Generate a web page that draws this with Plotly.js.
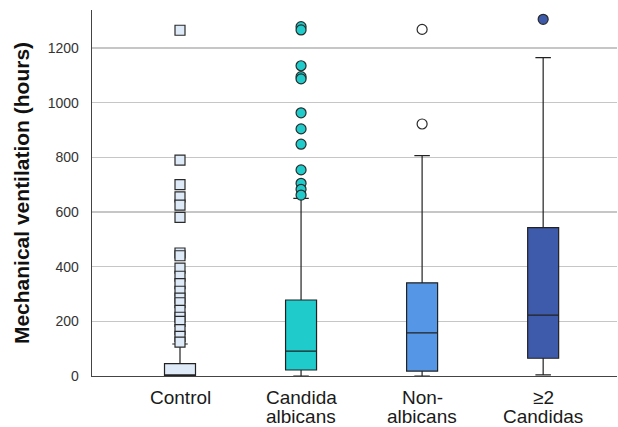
<!DOCTYPE html>
<html>
<head>
<meta charset="utf-8">
<script src="https://cdn.plot.ly/plotly-3.0.1.min.js"></script>
<style>html,body{margin:0;padding:0;background:#fff;}#chart{width:618px;height:427px;}</style>
</head>
<body>
<div id="chart"></div>
<script>
// Categories (two text lines each)
const categories = ["Control", "Candida albicans", "Non-albicans", "≥2 Candidas"];
const labelLine1 = ["Control", "Candida", "Non-", "≥2"];
const labelLine2 = ["", "albicans", "albicans", "Candidas"];

// Box statistics (hours)
const q1 = [0, 22, 18, 65];
const median = [4, 91, 158, 223];
const q3 = [45, 278, 341, 543];
const lowerFence = [0, 0, 0, 4];
const upperFence = [117, 650, 806, 1165];

// Outliers per group (hours)
const outControl = [1265, 790, 700, 655, 625, 580, 450, 440, 395, 365, 338, 310, 285, 268, 240, 215, 200, 170, 145, 124];
const outAlbicans = [1278, 1266, 1135, 1095, 1087, 963, 904, 848, 754, 705, 683, 662];
const outNonAlbicans = [1268, 922];
const outMulti = [1305];

const boxFill = ["#dfeaf8", "#1fcbcb", "#5597e6", "#3e5aab"];
const outlierFill = ["#dfeaf8", "#1fcbcb", "#ffffff", "#3e5aab"];
const outlierSymbol = ["square", "circle", "circle", "circle"];
const outliers = [outControl, outAlbicans, outNonAlbicans, outMulti];

const traces = [];
categories.forEach((c, i) => {
  traces.push({
    type: "box",
    name: c,
    x: [i],
    q1: [q1[i]], median: [median[i]], q3: [q3[i]],
    lowerfence: [lowerFence[i]], upperfence: [upperFence[i]],
    width: 0.256,
    whiskerwidth: 0.5,
    boxpoints: false,
    fillcolor: boxFill[i],
    line: {color: "#222222", width: 1.2},
    hoverinfo: "skip",
    showlegend: false
  });
  traces.push({
    type: "scatter",
    mode: "markers",
    x: outliers[i].map(() => i),
    y: outliers[i],
    marker: {
      symbol: outlierSymbol[i],
      size: outlierSymbol[i] === "square" ? 10 : 10,
      color: outlierFill[i],
      line: {color: "#2a2a2a", width: 1.2}
    },
    hoverinfo: "skip",
    showlegend: false
  });
});

const annotations = [];
categories.forEach((c, i) => {
  annotations.push({
    x: i, xref: "x", y: 0, yref: "paper",
    text: labelLine1[i], showarrow: false,
    xanchor: "center", yanchor: "top", yshift: -9,
    font: {family: "Liberation Sans, Arial, sans-serif", size: 19, color: "#1a1a1a"}
  });
  if (labelLine2[i]) {
    annotations.push({
      x: i, xref: "x", y: 0, yref: "paper",
      text: labelLine2[i], showarrow: false,
      xanchor: "center", yanchor: "top", yshift: -28,
      font: {family: "Liberation Sans, Arial, sans-serif", size: 19, color: "#1a1a1a"}
    });
  }
});

const layout = {
  width: 618, height: 427,
  margin: {l: 92, r: 1, t: 10, b: 51},
  paper_bgcolor: "#ffffff",
  plot_bgcolor: "#ffffff",
  boxmode: "overlay",
  showlegend: false,
  font: {family: "Liberation Sans, Arial, sans-serif"},
  xaxis: {
    range: [-0.727, 3.61],
    showticklabels: false,
    showgrid: false,
    zeroline: false,
    showline: true,
    linecolor: "#444444",
    linewidth: 1.3,
    ticks: "",
    fixedrange: true
  },
  yaxis: {
    range: [0, 1339],
    tickvals: [0, 200, 400, 600, 800, 1000, 1200],
    showgrid: true,
    gridcolor: "#c6c6c6",
    gridwidth: 1.5,
    zeroline: false,
    showline: true,
    linecolor: "#444444",
    linewidth: 1.3,
    ticks: "",
    ticklabelstandoff: 9,
    tickfont: {size: 14, color: "#333333"},
    title: {
      text: "<b>Mechanical ventilation (hours)</b>",
      font: {size: 21, color: "#111111"},
      standoff: 12
    },
    automargin: false
  },
  annotations: annotations
};

Plotly.newPlot("chart", traces, layout, {displayModeBar: false, staticPlot: true});
</script>
</body>
</html>
